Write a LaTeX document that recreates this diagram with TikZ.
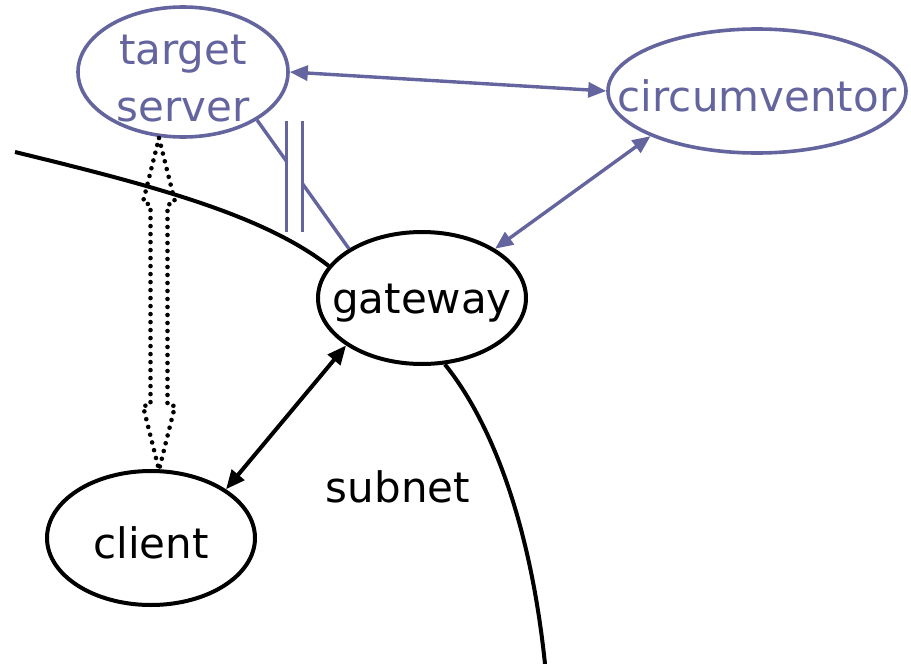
\documentclass[tikz,border=0pt]{standalone}
\usepackage{fontspec}
\setmainfont{DejaVu Sans}
\usetikzlibrary{shapes.geometric,arrows.meta,calc}
\definecolor{slate}{RGB}{100,100,158}
\begin{document}
\begin{tikzpicture}[x=1pt,y=-1pt,
  bubble/.style={ellipse,draw,inner sep=0pt,line width=4pt},
  blue bubble/.style={bubble,draw=slate,line width=3.6pt},
  label text/.style={inner sep=0pt,align=center,font=\fontsize{42}{57}\selectfont},
  blue link/.style={draw=slate,line width=3.4pt,{Triangle[length=18pt,width=15pt]}-{Triangle[length=18pt,width=15pt]}},
  black link/.style={line width=4pt,{Triangle[length=19pt,width=16pt]}-{Triangle[length=19pt,width=16pt]}},
  boundary/.style={line width=4pt},
  bar/.style={slate,line width=3.4pt},
  dotted outline/.style={line width=4.6pt,line cap=round,dash pattern=on 0pt off 8pt,line join=round}]
\useasboundingbox (0,0) rectangle (911,664);

% hosts: outlines first, names centred on them
\node[blue bubble,minimum width=210pt,minimum height=130pt] (ts) at (183,72) {};
\node[blue bubble,minimum width=298pt,minimum height=124pt] (circ) at (757,91) {};
\node[bubble,minimum width=208pt,minimum height=132pt] (gw) at (422,298) {};
\node[bubble,minimum width=208pt,minimum height=134pt] (cl) at (151,538) {};
\node[label text,text=slate] (tsname) at (183,79) {target\\server};
\node[label text,text=slate] (circname) at (757,96) {circumventor};
\node[label text] (gwname) at (422,303) {gateway};
\node[label text] (clname) at (151,543) {client};
\node[label text] (sub) at (398,487) {subnet};

% subnet boundary
\coordinate (edgeW) at (15,152);
\coordinate (edgeS) at (545,664);
\draw[boundary] (edgeW) .. controls (150,185) and (262,214) .. (gw.161);
\draw[boundary] (gw.289) .. controls (490,420) and (530,520) .. (edgeS);

% relayed links
\draw[blue link] (ts.east) -- (circ.west);
\draw[blue link] (circ.203) -- (gw.34);
\draw[black link] (gw.212) -- (cl.33);

% blocked direct link
\coordinate (bA) at (ts.-33);
\coordinate (bB) at (gw.146);
\coordinate (cut1) at ($(bA)!0.323!(bB)$);
\coordinate (cut2) at ($(bA)!0.495!(bB)$);
\draw[bar] (bA) -- (cut1);
\draw[bar] (cut2) -- (bB);
\draw[bar] (cut1 |- 0,121) -- (cut1 |- 0,232);
\draw[bar] (cut2 |- 0,121) -- (cut2 |- 0,232);

% apparent end-to-end path (hollow dotted double arrow)
\coordinate (tipT) at (159,138);
\coordinate (tipB) at (159,470);
\draw[dotted outline] (tipT) -- ++(16,64) -- ++(-7.5,3) -- (167.5,405) -- ++(7.5,1)
  -- (tipB) -- (143,406) -- ++(7.5,-1) -- (150.5,205) -- ++(-7.5,-3) -- cycle;
\end{tikzpicture}
\end{document}
